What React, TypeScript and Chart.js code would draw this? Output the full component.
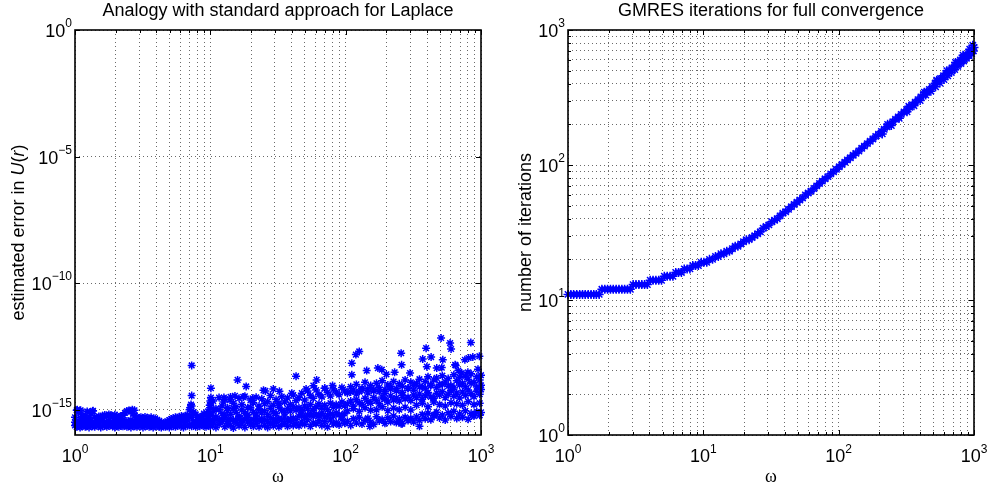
import React, { useEffect, useRef } from 'react';
import { Chart, registerables } from 'chart.js';

Chart.register(...registerables);

// ---------------- Left panel data: estimated error vs omega ----------------
const omegaA = [
  1.00, 1.03, 1.06, 1.09, 1.12, 1.15, 1.19, 1.23, 1.27, 1.31,
  1.35, 1.40, 1.45, 1.50, 1.55, 1.60, 1.66, 1.72, 1.78, 1.84,
  1.90, 1.97, 2.04, 2.11, 2.18, 2.26, 2.34, 2.42, 2.50, 2.59,
  2.68, 2.77, 2.87, 2.97, 3.07, 3.18, 3.29, 3.41, 3.53, 3.65,
  3.78, 3.91, 4.05, 4.19, 4.34, 4.49, 4.65, 4.81, 4.98, 5.15,
  5.33, 5.52, 5.71, 5.91, 6.12, 6.33, 6.55, 6.78, 7.02, 7.27,
  7.53, 7.80, 8.07, 8.36, 8.66, 8.97, 9.29, 9.62, 9.96,
];
const errA1 = [
  2.4e-16, 2.1e-16, 2.3e-16, 2.0e-16, 2.2e-16, 2.5e-16, 2.1e-16, 2.3e-16, 2.0e-16, 2.4e-16,
  2.2e-16, 2.1e-16, 2.5e-16, 2.3e-16, 2.0e-16, 2.2e-16, 2.4e-16, 2.1e-16, 2.3e-16, 2.5e-16,
  2.2e-16, 2.0e-16, 2.4e-16, 2.1e-16, 2.3e-16, 2.2e-16, 2.5e-16, 2.1e-16, 2.3e-16, 2.0e-16,
  2.4e-16, 2.2e-16, 2.1e-16, 2.3e-16, 2.5e-16, 2.0e-16, 2.2e-16, 2.4e-16, 2.1e-16, 2.3e-16,
  2.0e-16, 2.2e-16, 2.4e-16, 2.1e-16, 2.0e-16, 2.2e-16, 2.1e-16, 2.3e-16, 2.0e-16, 2.4e-16,
  2.2e-16, 2.1e-16, 2.3e-16, 2.5e-16, 2.2e-16, 2.0e-16, 2.4e-16, 2.3e-16, 2.6e-16, 2.2e-16,
  2.5e-16, 2.1e-16, 2.4e-16, 2.2e-16, 2.6e-16, 2.3e-16, 2.1e-16, 2.5e-16, 2.4e-16,
];
const errA2 = [
  5.0e-16, 9.5e-16, 8.0e-16, 9.0e-16, 5.5e-16, 4.5e-16, 6.0e-16, 8.5e-16, 4.8e-16, 7.0e-16,
  8.8e-16, 5.2e-16, 4.6e-16, 5.4e-16, 4.9e-16, 5.8e-16, 6.2e-16, 5.5e-16, 6.5e-16, 6.0e-16,
  5.3e-16, 6.3e-16, 5.7e-16, 4.8e-16, 5.5e-16, 6.0e-16, 7.5e-16, 8.8e-16, 9.2e-16, 8.5e-16,
  7.0e-16, 5.8e-16, 5.2e-16, 4.6e-16, 5.0e-16, 4.5e-16, 5.2e-16, 4.8e-16, 4.4e-16, 5.0e-16,
  4.2e-16, 4.5e-16, 4.0e-16, 3.6e-16, 3.2e-16, 2.9e-16, 3.0e-16, 3.5e-16, 3.9e-16, 4.3e-16,
  4.6e-16, 5.0e-16, 4.7e-16, 5.3e-16, 5.6e-16, 5.2e-16, 5.8e-16, 6.2e-16, 1.0e-15, 1.4e-15,
  8.0e-16, 6.5e-16, 5.0e-16, 4.0e-16, 5.5e-16, 7.0e-16, 6.0e-16, 8.5e-16, 1.2e-15,
];
const errA3 = [
  3.2e-16, 3.6e-16, 3.0e-16, 3.4e-16, 3.8e-16, 3.1e-16, 3.5e-16, 3.3e-16, 3.7e-16, 3.0e-16,
  3.4e-16, 3.2e-16, 3.6e-16, 3.0e-16, 3.5e-16, 3.8e-16, 3.3e-16, 3.1e-16, 3.6e-16, 3.4e-16,
  3.0e-16, 3.7e-16, 3.2e-16, 3.5e-16, 3.3e-16, 3.9e-16, 3.1e-16, 3.6e-16, 3.4e-16, 3.8e-16,
  3.2e-16, 3.5e-16, 3.0e-16, 3.3e-16, 3.6e-16, 3.1e-16, 3.4e-16, 3.2e-16, 3.0e-16, 3.5e-16,
  3.1e-16, 2.9e-16, 3.2e-16, 2.8e-16, 2.7e-16, 2.6e-16, 2.8e-16, 3.0e-16, 3.2e-16, 3.4e-16,
  3.3e-16, 3.6e-16, 3.2e-16, 3.5e-16, 3.8e-16, 3.4e-16, 3.7e-16, 3.9e-16, 6.0e-16, 5.0e-16,
  3.6e-16, 3.2e-16, 2.9e-16, 3.1e-16, 3.4e-16, 3.8e-16, 3.3e-16, 4.2e-16, 6.5e-16,
];

const omegaC = [
  10.0, 10.5, 11.0, 11.6, 12.2, 12.8, 13.4, 14.1, 14.8, 15.5,
  16.3, 17.1, 18.0, 18.9, 19.8, 20.8, 21.8, 22.9, 24.0, 25.2,
  26.5, 27.8, 29.2, 30.6, 32.1, 33.7, 35.4, 37.2, 39.0, 41.0,
  43.0, 45.2, 47.4, 49.8, 52.3, 54.9, 57.6, 60.5, 63.5, 66.7,
  70.0, 73.5, 77.2, 81.1, 85.1, 89.4, 93.8, 98.5, 103, 109,
  114, 120, 126, 132, 139, 146, 153, 161, 169, 177,
  186, 195, 205, 215, 226, 237, 249, 262, 275, 289,
  303, 318, 334, 351, 368, 387, 406, 426, 448, 470,
  494, 518, 544, 572, 600, 630, 662, 695, 730, 766,
  804, 845, 887, 931, 978, 1000,
];
const errC1 = [
  2.2e-16, 3.0e-16, 2.0e-16, 2.6e-16, 3.4e-16, 2.1e-16, 2.8e-16, 2.4e-16, 1.9e-16, 3.1e-16,
  2.3e-16, 2.7e-16, 2.0e-16, 3.3e-16, 2.5e-16, 2.2e-16, 2.9e-16, 2.1e-16, 3.5e-16, 2.4e-16,
  2.0e-16, 2.8e-16, 2.3e-16, 3.2e-16, 2.1e-16, 2.6e-16, 2.9e-16, 2.2e-16, 3.6e-16, 2.4e-16,
  2.7e-16,
  2.3e-16, 3.3e-16, 2.6e-16, 4.0e-16, 2.2e-16, 3.0e-16, 2.8e-16, 3.7e-16, 2.4e-16, 3.4e-16,
  2.1e-16, 3.9e-16, 2.7e-16, 3.1e-16, 2.5e-16, 4.2e-16, 2.9e-16,
  3.5e-16, 2.4e-16, 4.4e-16, 3.0e-16, 5.0e-16, 2.7e-16, 3.8e-16, 4.6e-16, 3.2e-16, 2.6e-16,
  5.3e-16, 3.6e-16, 4.1e-16, 2.9e-16, 4.8e-16, 3.4e-16, 5.6e-16, 3.1e-16, 4.3e-16, 2.8e-16,
  5.0e-16, 3.7e-16, 4.5e-16, 3.3e-16,
  5.2e-16, 3.8e-16, 6.5e-16, 4.4e-16, 7.2e-16, 4.0e-16, 5.8e-16, 8.0e-16, 4.7e-16, 6.1e-16,
  3.9e-16, 7.5e-16, 5.4e-16, 8.6e-16, 4.5e-16, 6.8e-16, 5.0e-16, 9.0e-16, 4.2e-16, 7.0e-16,
  5.6e-16, 8.2e-16, 6.0e-16, 7.8e-16,
];
const errC2 = [
  6.0e-16, 8.5e-16, 5.2e-16, 1.0e-15, 7.0e-16, 5.8e-16, 9.2e-16, 6.6e-16, 1.1e-15, 7.8e-16,
  5.5e-16, 9.8e-16, 7.2e-16, 6.2e-16, 1.2e-15, 8.0e-16, 6.8e-16, 1.05e-15, 7.5e-16, 9.0e-16,
  6.4e-16, 1.15e-15, 8.3e-16, 7.0e-16, 1.25e-15, 9.4e-16, 7.6e-16, 1.1e-15, 8.8e-16, 1.3e-15,
  9.6e-16,
  1.2e-15, 9.0e-16, 1.4e-15, 1.1e-15, 1.6e-15, 9.5e-16, 1.3e-15, 1.7e-15, 1.15e-15, 1.5e-15,
  1.0e-15, 1.8e-15, 1.25e-15, 1.6e-15, 1.35e-15, 2.0e-15, 1.45e-15,
  1.7e-15, 2.2e-15, 1.4e-15, 2.5e-15, 1.9e-15, 1.6e-15, 2.8e-15, 2.1e-15, 1.8e-15, 3.0e-15,
  2.3e-15, 1.7e-15, 3.2e-15, 2.6e-15, 2.0e-15, 3.5e-15, 2.4e-15, 2.9e-15, 2.2e-15, 3.6e-15,
  2.7e-15, 3.1e-15, 2.3e-15, 3.8e-15,
  3.0e-15, 4.2e-15, 2.6e-15, 3.6e-15, 4.8e-15, 3.2e-15, 2.8e-15, 4.5e-15, 3.8e-15, 5.2e-15,
  3.0e-15, 4.0e-15, 5.6e-15, 3.4e-15, 4.6e-15, 2.9e-15, 5.0e-15, 3.7e-15, 6.0e-15, 4.3e-15,
  3.3e-15, 5.4e-15, 4.1e-15, 6.3e-15,
];
const errC3 = [
  1.5e-15, 2.2e-15, 1.1e-15, 3.0e-15, 1.4e-15, 2.6e-15, 1.2e-15, 3.2e-15, 1.8e-15, 1.3e-15,
  2.8e-15, 1.6e-15, 3.4e-15, 1.2e-15, 2.4e-15, 1.9e-15, 3.1e-15, 1.4e-15, 2.7e-15, 1.7e-15,
  2.1e-15, 3.6e-15, 1.5e-15, 2.5e-15, 1.8e-15, 3.3e-15, 2.0e-15, 2.9e-15, 1.6e-15, 3.8e-15,
  2.3e-15,
  3.0e-15, 4.5e-15, 2.4e-15, 5.5e-15, 3.6e-15, 2.8e-15, 6.0e-15, 4.0e-15, 3.2e-15, 7.0e-15,
  4.8e-15, 3.5e-15, 6.5e-15, 5.0e-15, 3.9e-15, 7.5e-15, 5.5e-15,
  4.5e-15, 8.0e-15, 6.0e-15, 1.0e-14, 5.2e-15, 7.0e-15, 1.2e-14, 6.5e-15, 9.0e-15, 5.5e-15,
  1.1e-14, 7.5e-15, 1.4e-14, 6.2e-15, 9.5e-15, 8.0e-15, 1.3e-14, 6.8e-15, 1.05e-14, 8.5e-15,
  1.5e-14, 7.2e-15, 1.2e-14, 9.0e-15,
  1.1e-14, 1.6e-14, 8.0e-15, 1.3e-14, 2.0e-14, 9.5e-15, 1.5e-14, 1.8e-14, 1.0e-14, 2.2e-14,
  1.25e-14, 1.7e-14, 9.0e-15, 2.4e-14, 1.4e-14, 1.9e-14, 1.1e-14, 2.1e-14, 1.6e-14, 2.6e-14,
  1.2e-14, 2.0e-14, 1.5e-14, 2.3e-14,
];
const errC4 = [
  4.0e-16, 3.6e-16, 4.5e-16, 3.8e-16, 4.2e-16, 4.8e-16, 3.5e-16, 4.4e-16, 4.0e-16, 3.7e-16,
  4.6e-16, 3.9e-16, 4.3e-16, 5.0e-16, 3.6e-16, 4.1e-16, 4.7e-16, 3.8e-16, 4.4e-16, 4.0e-16,
  3.5e-16, 4.9e-16, 4.2e-16, 3.7e-16, 4.5e-16, 4.0e-16, 5.2e-16, 3.9e-16, 4.3e-16, 4.6e-16,
  4.1e-16,
  5.5e-16, 6.8e-16, 5.0e-16, 6.2e-16, 7.0e-16, 5.4e-16, 6.5e-16, 5.8e-16, 7.2e-16, 5.2e-16,
  6.0e-16, 6.9e-16, 5.6e-16, 7.5e-16, 6.3e-16, 5.9e-16, 7.0e-16,
  9.0e-16, 5.0e-15, 1.1e-15, 4.2e-15, 8.5e-16, 5.8e-15, 1.2e-15, 4.6e-15, 9.5e-16, 6.2e-15,
  1.0e-15, 5.2e-15, 1.3e-15, 4.4e-15, 9.2e-16, 6.5e-15, 1.15e-15, 5.5e-15, 1.0e-15, 4.8e-15,
  1.25e-15, 6.8e-15, 9.8e-16, 5.9e-15,
  1.5e-15, 8.0e-15, 1.8e-15, 7.0e-15, 1.3e-15, 9.0e-15, 2.0e-15, 7.5e-15, 1.6e-15, 1.0e-14,
  1.4e-15, 8.5e-15, 1.9e-15, 7.2e-15, 1.7e-15, 9.5e-15, 1.5e-15, 8.2e-15, 2.1e-15, 1.1e-14,
  1.6e-15, 7.8e-15, 1.8e-15, 9.2e-15,
];

// isolated points
const omegaO = [
  1.04, 1.10, 1.36, 2.65, 2.75, 7.1, 7.2, 7.28, 7.28, 9.9,
  10.0, 10.1, 10.1, 12.5, 12.6, 14.0, 15.9, 15.2, 18.4, 17.5,
  20.5, 24.7, 25.5, 29.2, 32.4, 43, 40, 51, 57.7, 61,
  70, 80, 111, 119, 126, 111, 143, 173, 185, 257,
  259, 299, 371, 393, 428, 471, 507, 522, 591, 601,
  644, 760, 841, 870, 973, 351, 870, 453, 257, 200,
  230, 680, 800, 950, 151, 810, 720, 398, 513, 650,
];
const errO = [
  1.0e-15, 9.5e-16, 9.0e-16, 1.0e-15, 9.5e-16, 1.2e-15, 1.6e-15, 5.6e-14, 3.6e-15, 1.5e-15,
  2.2e-15, 3.0e-15, 7.1e-15, 2.0e-15, 3.0e-15, 2.4e-15, 1.5e-14, 3.5e-15, 8.3e-15, 3.2e-15,
  2.8e-15, 5.8e-15, 5.5e-15, 6.5e-15, 5.3e-15, 2.1e-14, 4.5e-15, 6.5e-15, 8.9e-15, 1.5e-14,
  7.0e-15, 9.0e-15, 6.9e-14, 1.5e-13, 2.0e-13, 2.4e-14, 3.5e-14, 4.4e-14, 3.8e-14, 1.7e-13,
  5.9e-14, 2.8e-14, 1.0e-13, 2.7e-13, 1.2e-13, 4.4e-14, 6.8e-13, 9.4e-14, 4.3e-13, 2.5e-13,
  5.9e-14, 9.4e-14, 4.5e-13, 1.2e-13, 1.3e-13, 2.2e-16, 6.3e-16, 6.3e-16, 2.8e-16, 2.5e-14,
  3.0e-14, 3.5e-14, 3.0e-14, 4.0e-14, 2.2e-16, 1.1e-13, 2.8e-14, 5.0e-14, 4.6e-14, 5.6e-14,
];

// ---------------- Right panel data: GMRES iterations vs omega ----------------
const omegaR = [
  1, 1.05, 1.1, 1.16, 1.22, 1.28, 1.34, 1.41, 1.48, 1.55,
  1.62, 1.7, 1.78, 1.87, 1.96, 2.06, 2.16, 2.27, 2.38, 2.5,
  2.62, 2.75, 2.89, 3.03, 3.18, 3.34, 3.51, 3.68, 3.86, 4.05,
  4.25, 4.46, 4.68, 4.91, 5.15, 5.41, 5.68, 5.96, 6.25, 6.56,
  6.89, 7.23, 7.59, 7.96, 8.35, 8.76, 9.19, 9.65, 10.1, 10.6,
  11.1, 11.7, 12.3, 12.9, 13.5, 14.2, 14.9, 15.6, 16.4, 17.2,
  18.0, 18.9, 19.8, 20.8, 21.8, 22.9, 24.0, 25.2, 26.4, 27.7,
  29.1, 30.5, 32.0, 33.6, 35.2, 36.9, 38.7, 40.6, 42.6, 44.7,
  46.9, 49.2, 51.6, 54.1, 56.8, 59.6, 62.5, 65.6, 68.8, 72.2,
  75.7, 79.4, 83.3, 87.4, 91.7, 96.2, 101, 106, 111, 116,
  122, 128, 134, 141, 148, 155, 163, 171, 179, 188,
  197, 207, 217, 228, 239, 251, 263, 276, 290, 304,
  319, 335, 351, 368, 386, 405, 425, 446, 468, 491,
  515, 540, 567, 595, 624, 655, 687, 721, 756, 793,
  832, 873, 916, 961, 1000,
];
const itersR = [
  11, 11, 11, 11, 11, 11, 11, 11, 11, 11,
  11, 11, 12, 12, 12, 12, 12, 12, 12, 12,
  12, 12, 12, 13, 13, 13, 13, 13, 13, 14,
  14, 14, 14, 14, 15, 15, 15, 15, 16, 16,
  16, 17, 17, 17, 18, 18, 18, 19, 19, 19,
  20, 20, 21, 21, 22, 22, 23, 23, 24, 25,
  25, 26, 27, 28, 28, 29, 30, 31, 32, 34,
  35, 36, 38, 39, 40, 42, 44, 45, 47, 49,
  51, 53, 55, 57, 60, 62, 64, 67, 70, 73,
  76, 79, 82, 86, 89, 93, 97, 101, 105, 109,
  113, 118, 122, 127, 133, 138, 144, 150, 156, 163,
  169, 177, 184, 192, 200, 209, 218, 227, 237, 247,
  257, 268, 280, 292, 305, 319, 333, 348, 363, 380,
  401, 419, 438, 458, 479, 501, 524, 548, 573, 599,
  627, 655, 684, 716, 743,
];
const omegaR2 = [
  210, 245, 280, 320, 360, 400, 440, 480, 520, 560,
  600, 640, 680, 720, 760, 800, 840, 880, 920, 960,
  990, 230, 330, 430, 530, 630, 730, 830, 930, 980,
];
const itersR2 = [
  170, 196, 222, 248, 275, 300, 330, 352, 380, 405,
  430, 458, 485, 510, 538, 565, 590, 618, 645, 670,
  700, 200, 272, 346, 425, 500, 575, 650, 720, 770,
];

// ---------------- ticks (labels are 10 raised to the listed exponents) ----------------
const decadeTicks = [1, 10, 100, 1000];
const decadeExps = ['0', '1', '2', '3'];
const minorTicks = [2, 3, 4, 5, 6, 7, 8, 9, 20, 30, 40, 50, 60, 70, 80, 90, 200, 300, 400, 500, 600, 700, 800, 900];
const errTicks = [1e-15, 1e-10, 1e-5, 1];
const errExps = ['\u221215', '\u221210', '\u22125', '0'];

const titleLeft = 'Analogy with standard approach for Laplace';
const titleRight = 'GMRES iterations for full convergence';

const SANS = "'Liberation Sans', Arial, Helvetica, sans-serif";
const SERIF = "'Liberation Serif', 'Times New Roman', serif";
const FS = 18;
const FS_EXP = 12;
const BLUE = 'rgb(0,0,255)';

function pairs(xs: number[], ys: number[]) {
  return xs.map((x, i) => ({ x, y: ys[i] }));
}

function logAxis(min: number, max: number, majors: number[], exps: string[], minors: number[], isX: boolean, size: number) {
  return {
    type: 'logarithmic',
    min,
    max,
    afterBuildTicks: (scale: any) => {
      const t = majors.map((v) => ({ value: v, major: true })).concat(minors.map((v) => ({ value: v, major: false })));
      t.sort((a, b) => a.value - b.value);
      scale.ticks = t;
    },
    afterFit: (scale: any) => {
      if (isX) scale.height = size;
      else scale.width = size;
    },
    ticks: {
      autoSkip: false,
      maxRotation: 0,
      minRotation: 0,
      display: false,
      callback: () => '',
    },
    powerLabels: { majors, exps },
    grid: { color: '#6a6a6a', lineWidth: 1, drawTicks: false },
    border: { display: false, dash: [1, 3] },
  } as any;
}

// Draws "10" with a raised exponent for each decade tick, plus the frame and inward ticks.
const framePlugin = {
  id: 'frame',
  afterDraw(chart: any) {
    const { ctx, chartArea: a } = chart;
    const xs = chart.scales.x;
    const ys = chart.scales.y;
    ctx.save();
    ctx.strokeStyle = '#000';
    ctx.lineWidth = 1;
    ctx.beginPath();
    xs.ticks.forEach((t: any) => {
      const p = Math.round(xs.getPixelForValue(t.value)) + 0.5;
      const len = t.major ? 5 : 3;
      ctx.moveTo(p, a.bottom); ctx.lineTo(p, a.bottom - len);
      ctx.moveTo(p, a.top); ctx.lineTo(p, a.top + len);
    });
    ys.ticks.forEach((t: any) => {
      const p = Math.round(ys.getPixelForValue(t.value)) + 0.5;
      const len = t.major ? 5 : 3;
      ctx.moveTo(a.left, p); ctx.lineTo(a.left + len, p);
      ctx.moveTo(a.right, p); ctx.lineTo(a.right - len, p);
    });
    ctx.stroke();
    ctx.lineWidth = 1.6;
    ctx.strokeRect(a.left, a.top, a.right - a.left, a.bottom - a.top);

    ctx.fillStyle = '#000';
    ctx.textBaseline = 'alphabetic';
    ctx.textAlign = 'left';
    const baseFont = `${FS}px ${SANS}`;
    const expFont = `${FS_EXP}px ${SANS}`;
    const xl = xs.options.powerLabels;
    xl.majors.forEach((v: number, i: number) => {
      ctx.font = baseFont;
      const wb = ctx.measureText('10').width;
      ctx.font = expFont;
      const we = ctx.measureText(xl.exps[i]).width;
      const cx = xs.getPixelForValue(v);
      const x0 = cx - (wb + we) / 2;
      const base = a.bottom + 27;
      ctx.font = baseFont;
      ctx.fillText('10', x0, base);
      ctx.font = expFont;
      ctx.fillText(xl.exps[i], x0 + wb, base - 9);
    });
    const yl = ys.options.powerLabels;
    yl.majors.forEach((v: number, i: number) => {
      ctx.font = baseFont;
      const wb = ctx.measureText('10').width;
      ctx.font = expFont;
      const we = ctx.measureText(yl.exps[i]).width;
      const cy = ys.getPixelForValue(v);
      const x0 = a.left - 3 - we - wb;
      const base = cy + 7;
      ctx.font = baseFont;
      ctx.fillText('10', x0, base);
      ctx.font = expFont;
      ctx.fillText(yl.exps[i], x0 + wb, base - 10);
    });
    ctx.restore();
  },
};

const yLabelParts: [string, boolean][] = [['estimated error in ', false], ['U', true], ['(', false], ['r', true], [')', false]];

const leftYLabelPlugin = {
  id: 'leftYLabel',
  afterDraw(chart: any) {
    const { ctx, chartArea: a } = chart;
    ctx.save();
    const widths = yLabelParts.map(([t, it]) => {
      ctx.font = `${it ? 'italic ' : ''}${FS}px ${SANS}`;
      return ctx.measureText(t).width;
    });
    const total = widths.reduce((s, w) => s + w, 0);
    ctx.translate(19, (a.top + a.bottom) / 2);
    ctx.rotate(-Math.PI / 2);
    ctx.textBaseline = 'middle';
    ctx.textAlign = 'left';
    ctx.fillStyle = '#000';
    let x = -total / 2;
    yLabelParts.forEach(([t, it], i) => {
      ctx.font = `${it ? 'italic ' : ''}${FS}px ${SANS}`;
      ctx.fillText(t, x, 0);
      x += widths[i];
    });
    ctx.restore();
  },
};

function markerDataset(data: { x: number; y: number }[], r: number) {
  return {
    data,
    showLine: false,
    pointStyle: 'star',
    pointRadius: r,
    pointBorderWidth: 1.5,
    borderColor: BLUE,
    backgroundColor: BLUE,
    pointBorderColor: BLUE,
    clip: false,
  } as any;
}

function baseOptions(title: string, padRight: number) {
  return {
    responsive: false,
    animation: false,
    devicePixelRatio: 1,
    events: [],
    layout: { autoPadding: false, padding: { left: 0, right: padRight, top: 0, bottom: 0 } },
    plugins: {
      legend: { display: false },
      tooltip: { enabled: false },
      title: {
        display: true,
        text: title,
        fullSize: false,
        color: '#000',
        font: { family: SANS, size: FS, weight: 'normal' },
        padding: { top: 0, bottom: 8.4 },
      },
    },
  } as any;
}

export default function App() {
  const leftRef = useRef<HTMLCanvasElement>(null);
  const rightRef = useRef<HTMLCanvasElement>(null);

  useEffect(() => {
    const xTitle = { display: true, text: 'ω', color: '#000', font: { family: SERIF, size: FS }, padding: { top: 0, bottom: 3 } };
    const leftOpts = baseOptions(titleLeft, 14);
    leftOpts.scales = {
      x: { ...logAxis(1, 1000, decadeTicks, decadeExps, minorTicks, true, 56), title: xTitle },
      y: logAxis(1e-16, 1, errTicks, errExps, [], false, 75),
    };
    const left = new Chart(leftRef.current as HTMLCanvasElement, {
      type: 'scatter',
      data: {
        datasets: [
          markerDataset(pairs(omegaA, errA1), 4),
          markerDataset(pairs(omegaA, errA3), 4),
          markerDataset(pairs(omegaA, errA2), 4),
          markerDataset(pairs(omegaC, errC1), 4),
          markerDataset(pairs(omegaC, errC4), 4),
          markerDataset(pairs(omegaC, errC2), 4),
          markerDataset(pairs(omegaC, errC3), 4),
          markerDataset(pairs(omegaO, errO), 4),
        ],
      },
      options: leftOpts,
      plugins: [framePlugin, leftYLabelPlugin],
    } as any);

    const rightOpts = baseOptions(titleRight, 16);
    rightOpts.scales = {
      x: { ...logAxis(1, 1000, decadeTicks, decadeExps, minorTicks, true, 56), title: xTitle },
      y: {
        ...logAxis(1, 1000, decadeTicks, decadeExps, minorTicks, false, 73),
        title: { display: true, text: 'number of iterations', color: '#000', font: { family: SANS, size: FS }, padding: { top: 20, bottom: 0 } },
      },
    };
    const right = new Chart(rightRef.current as HTMLCanvasElement, {
      type: 'scatter',
      data: {
        datasets: [markerDataset(pairs(omegaR, itersR), 4.5), markerDataset(pairs(omegaR2, itersR2), 4.5)],
      },
      options: rightOpts,
      plugins: [framePlugin],
    } as any);

    return () => {
      left.destroy();
      right.destroy();
    };
  }, []);

  return (
    <div style={{ position: 'absolute', left: 0, top: 0, width: 990, height: 491, background: '#fff' }}>
      <canvas ref={leftRef} width={495} height={491} style={{ position: 'absolute', left: 0, top: 0, width: 495, height: 491 }} />
      <canvas ref={rightRef} width={495} height={491} style={{ position: 'absolute', left: 495, top: 0, width: 495, height: 491 }} />
    </div>
  );
}
